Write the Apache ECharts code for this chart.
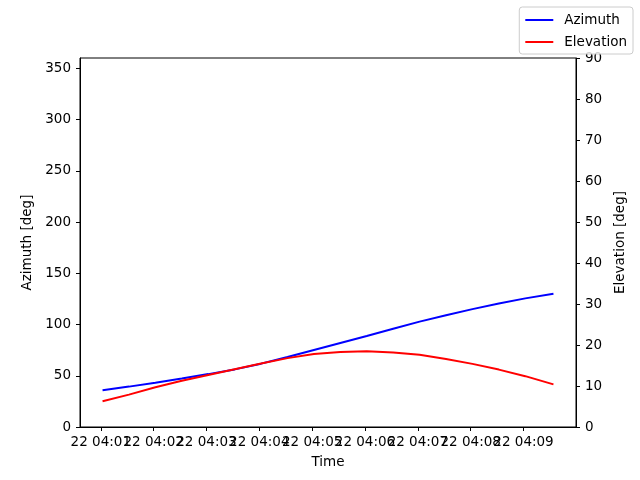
<!DOCTYPE html>
<html>
<head>
<meta charset="utf-8">
<script src="https://cdn.jsdelivr.net/npm/echarts@6/dist/echarts.min.js"></script>
<style>html,body{margin:0;padding:0;background:#fff;}#c{width:640px;height:480px;}</style>
</head>
<body>
<div id="c"></div>
<script>
// time in seconds after 22 04:00:00
const timesSec = [62, 92, 122, 152, 182, 212, 242, 272, 302, 332, 362, 392, 422, 452, 482, 512, 542, 574];
const azimuth = [35.8, 39.4, 43.2, 47.3, 51.6, 56.2, 61.8, 68.3, 75.2, 82.0, 88.8, 95.8, 102.8, 109.0, 115.0, 120.5, 125.5, 130.0];
const elevation = [6.3, 7.9, 9.7, 11.3, 12.7, 14.1, 15.5, 16.8, 17.8, 18.3, 18.5, 18.2, 17.6, 16.6, 15.4, 14.0, 12.4, 10.4];
const xTicksOdd = [1, 3, 5, 7, 9];
const xTicksEven = [2, 4, 6, 8];
const azTicks = [0, 50, 100, 150, 200, 250, 300, 350];
const elTicks = [0, 10, 20, 30, 40, 50, 60, 70, 80, 90];

const tMin = timesSec.map(s => s / 60);
const span = tMin[tMin.length - 1] - tMin[0];
const xMin = tMin[0] - 0.05 * span;
const xMax = tMin[tMin.length - 1] + 0.05 * span;

const font = 'DejaVu Sans';
const fs = 13.5;
function xAxisDef(ticks, withName) {
  return {
    type: 'value', min: xMin, max: xMax, position: 'bottom', offset: 0,
    name: withName ? 'Time' : '', nameLocation: 'middle', nameGap: 28,
    nameTextStyle: {fontFamily: font, fontSize: fs, color: '#000'},
    axisLine: {show: true, onZero: false, lineStyle: {color: '#000', width: 1}},
    axisTick: {show: true, inside: false, length: 4, lineStyle: {color: '#000'}, customValues: ticks},
    axisLabel: {show: true, margin: 8, color: '#000', fontFamily: font, fontSize: fs,
      showMinLabel: true, showMaxLabel: true, hideOverlap: false,
      customValues: ticks, formatter: v => '22 04:0' + Math.round(v)},
    splitLine: {show: false}
  };
}
const chart = echarts.init(document.getElementById('c'), null, {renderer: 'canvas'});
chart.setOption({
  animation: false,
  backgroundColor: '#fff',
  textStyle: {fontFamily: font},
  grid: {left: 80, right: 64, top: 58, bottom: 53, show: true, borderColor: '#000', borderWidth: 1, backgroundColor: 'transparent'},
  legend: {
    right: 7, top: 7, orient: 'vertical',
    data: ['Azimuth', 'Elevation'],
    icon: 'rect', itemWidth: 28, itemHeight: 2, itemGap: 8,
    borderColor: '#cccccc', borderWidth: 1, borderRadius: 3,
    padding: [6, 6, 5, 6],
    backgroundColor: 'rgba(255,255,255,0.8)',
    textStyle: {fontFamily: font, fontSize: fs, color: '#000', padding: [0, 0, 0, 6]}
  },
  xAxis: [xAxisDef(xTicksOdd, true), xAxisDef(xTicksEven, false)],
  yAxis: [{
    type: 'value', min: 0, max: 360, interval: 50, position: 'left',
    name: 'Azimuth [deg]', nameLocation: 'middle', nameGap: 40,
    nameTextStyle: {fontFamily: font, fontSize: fs, color: '#000'},
    axisLine: {show: true, lineStyle: {color: '#000'}},
    axisTick: {show: true, inside: false, length: 4, lineStyle: {color: '#000'}, customValues: azTicks},
    axisLabel: {margin: 9, color: '#000', fontFamily: font, fontSize: fs, customValues: azTicks},
    splitLine: {show: false}
  }, {
    type: 'value', min: 0, max: 90, interval: 10, position: 'right',
    name: 'Elevation [deg]', nameLocation: 'middle', nameGap: 28,
    nameTextStyle: {fontFamily: font, fontSize: fs, color: '#000'},
    axisLine: {show: true, lineStyle: {color: '#000'}},
    axisTick: {show: true, inside: false, length: 4, lineStyle: {color: '#000'}, customValues: elTicks},
    axisLabel: {margin: 9, color: '#000', fontFamily: font, fontSize: fs, customValues: elTicks},
    splitLine: {show: false}
  }],
  series: [{
    name: 'Azimuth', type: 'line', xAxisIndex: 0, yAxisIndex: 0, showSymbol: false, symbol: 'none',
    color: '#0000ff', lineStyle: {color: '#0000ff', width: 2},
    data: tMin.map((t, i) => [t, azimuth[i]])
  }, {
    name: 'Elevation', type: 'line', xAxisIndex: 0, yAxisIndex: 1, showSymbol: false, symbol: 'none',
    color: '#ff0000', lineStyle: {color: '#ff0000', width: 2},
    data: tMin.map((t, i) => [t, elevation[i]])
  }]
});
</script>
</body>
</html>
